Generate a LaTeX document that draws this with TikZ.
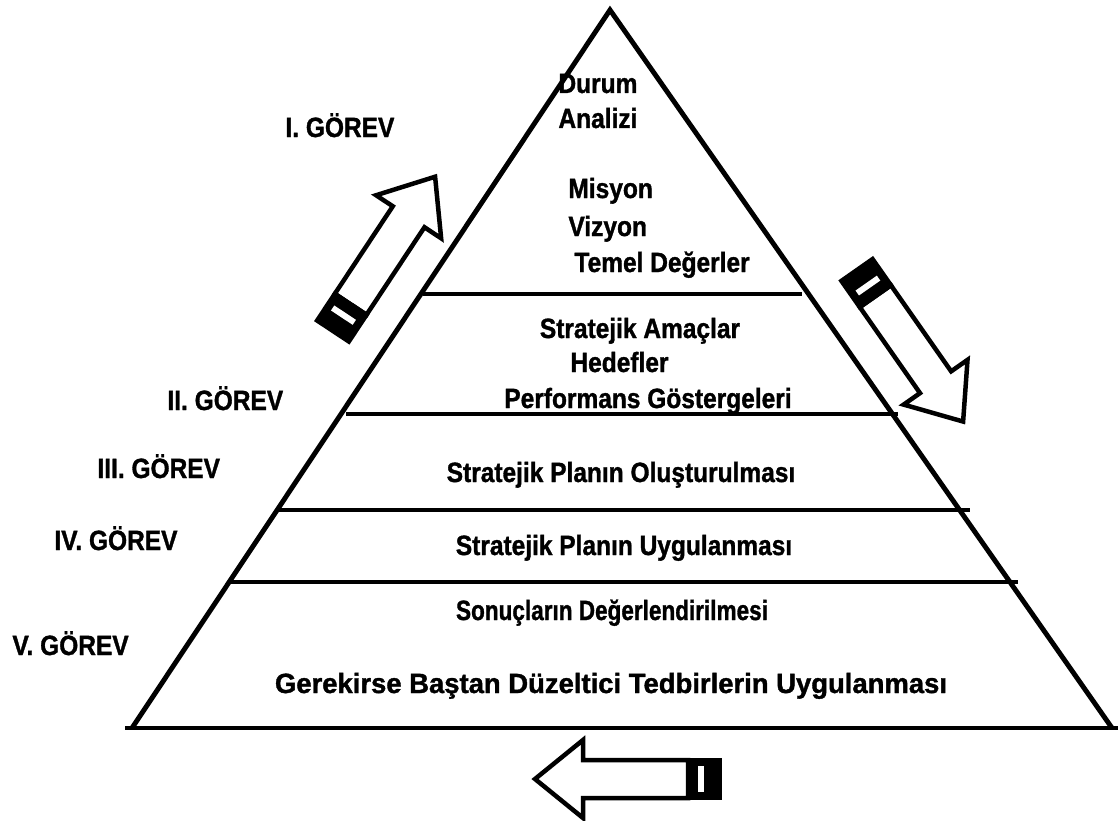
\documentclass[tikz,border=0pt]{standalone}
\usepackage{fontspec}
\setmainfont{Liberation Sans}[FakeStretch=0.88,BoldFeatures={FakeBold=1.2}]
\begin{document}
\begin{tikzpicture}[x=0.025cm,y=-0.025cm,line width=3.5pt,
  lbl/.style={inner sep=0pt,font=\bfseries\fontsize{19.8}{24}\selectfont},
  pics/stripearrow/.style={code={
    \filldraw[line width=3.2pt,fill=white] (32,-19) -- (137,-19) -- (137,-39) -- (185,0)
      -- (137,39) -- (137,19) -- (32,19) -- cycle;
    \filldraw[line width=3.2pt] (0,-19) rectangle (32,19);
    \fill[white] (16,-13) rectangle (22,13);
  }}]
  \useasboundingbox (0,0) rectangle (1118,821);

  % pyramid
  \coordinate (apex) at (610,10);
  \coordinate (bl) at (132,728);
  \coordinate (br) at (1112,728);
  \draw (bl) -- (apex) -- (br);
  \draw (125,728) -- (1118,728);
  \draw (423,294) -- (802,294);
  \draw (346,414) -- (898,414);
  \draw (277,510) -- (970,510);
  \draw (228,582) -- (1018,582);

  % levels
  \node[lbl,anchor=base west] (durum) at (556,93) {Durum};
  \node[lbl,anchor=base west] (analiz) at (556,128) {Analizi};
  \node[lbl,anchor=base west] (misyon) at (566,198) {Misyon};
  \node[lbl,anchor=base west] (vizyon) at (566,236) {Vizyon};
  \node[lbl,anchor=base west] (deger) at (572,272) {Temel Değerler};
  \node[lbl,anchor=base] (amac) at (640,338) {Stratejik Amaçlar};
  \node[lbl,anchor=base west] (hedef) at (568,372) {Hedefler};
  \node[lbl,anchor=base] (gosterge) at (648,408) {Performans Göstergeleri};
  \node[lbl,anchor=base] (olustur) at (621,482) {Stratejik Planın Oluşturulması};
  \node[lbl,anchor=base] (uygula) at (624,555) {Stratejik Planın Uygulanması};
  \node[lbl,anchor=base,transform shape,xscale=0.92] (sonuc) at (612,620)
    {Sonuçların Değerlendirilmesi};
  \node[lbl,anchor=base,transform shape,xscale=1.12] (duzelt) at (611,693)
    {Gerekirse Baştan Düzeltici Tedbirlerin Uygulanması};

  % tasks
  \node[lbl,anchor=base west] (g1) at (283,137) {I. GÖREV};
  \node[lbl,anchor=base west] (g2) at (165,410) {II. GÖREV};
  \node[lbl,anchor=base west] (g3) at (95,478) {III. GÖREV};
  \node[lbl,anchor=base west] (g4) at (52,550) {IV. GÖREV};
  \node[lbl,anchor=base west] (g5) at (10,655) {V. GÖREV};

  % arrows
  \pic[rotate=56.5] at (333,331) {stripearrow};
  \pic[rotate=-55] at (857,270) {stripearrow};
  \pic[rotate=180] at (720,779) {stripearrow};
\end{tikzpicture}
\end{document}
